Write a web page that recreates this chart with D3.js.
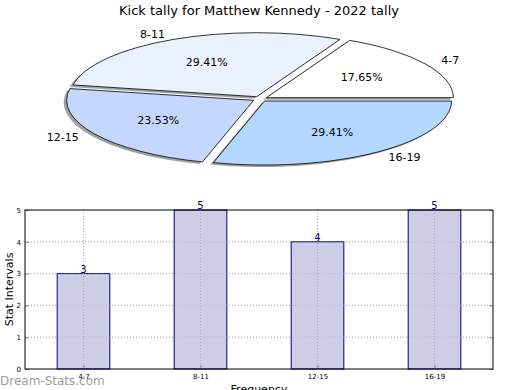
<!DOCTYPE html>
<html>
<head>
<meta charset="utf-8">
<script src="https://cdn.jsdelivr.net/npm/d3@7"></script>
<style>
  body { margin: 0; background: #fff; }
  svg { font-family: "DejaVu Sans", sans-serif; }
</style>
</head>
<body>
<div id="chart"></div>
<script>
// chart data
const categories = ["4-7", "8-11", "12-15", "16-19"];
const counts = [3, 5, 4, 5];
const sliceColors = ["#ffffff", "#eaf1ff", "#c4d8ff", "#b3d7ff"];
const yTicks = [0, 1, 2, 3, 4, 5];

const W = 520, H = 390;
const svg = d3.select("#chart").append("svg")
  .attr("width", W)
  .attr("height", H);

svg.append("text")
  .attr("x", 259).attr("y", 15)
  .attr("text-anchor", "middle")
  .attr("font-size", 13)
  .text("Kick tally for Matthew Kennedy - 2022 tally");

// ---- pie (matplotlib style, squashed into an ellipse) ----
const cx = 260, cy = 99, rx = 187, ry = 64, explode = 0.04;
const total = d3.sum(counts);
const pie = d3.pie().sort(null)(counts);
const arc = d3.arc().innerRadius(0).outerRadius(rx);

// d3 angles run clockwise from 12 o'clock; the reference runs counterclockwise from 3 o'clock
const slices = pie.map((p, i) => {
  const t1 = p.startAngle, t2 = p.endAngle, mid = (t1 + t2) / 2;
  return {
    i, value: p.data,
    start: Math.PI / 2 - t2, end: Math.PI / 2 - t1,
    dx: explode * rx * Math.cos(mid), dy: -explode * ry * Math.sin(mid), mid
  };
});

const pieG = svg.append("g");
// shadow
pieG.selectAll("path.shadow").data(slices).enter().append("path")
  .attr("class", "shadow")
  .attr("transform", d => `translate(${cx + d.dx - 3},${cy + d.dy + 2}) scale(1,${ry / rx})`)
  .attr("d", d => arc({startAngle: d.start, endAngle: d.end}))
  .attr("fill", "#555")
  .attr("opacity", 0.55);

pieG.selectAll("path.slice").data(slices).enter().append("path")
  .attr("class", "slice")
  .attr("transform", d => `translate(${cx + d.dx},${cy + d.dy}) scale(1,${ry / rx})`)
  .attr("d", d => arc({startAngle: d.start, endAngle: d.end}))
  .attr("fill", d => sliceColors[d.i])
  .attr("stroke", "#000")
  .attr("stroke-width", 0.8)
  .attr("vector-effect", "non-scaling-stroke");

// percent labels
pieG.selectAll("text.pct").data(slices).enter().append("text")
  .attr("x", d => cx + d.dx + 0.6 * rx * Math.cos(d.mid))
  .attr("y", d => cy + d.dy - 0.6 * ry * Math.sin(d.mid))
  .attr("dy", "0.35em")
  .attr("text-anchor", "middle")
  .attr("font-size", 11)
  .text(d => (d.value / total * 100).toFixed(2) + "%");

// category labels
pieG.selectAll("text.cat").data(slices).enter().append("text")
  .attr("x", d => cx + d.dx + 1.1 * rx * Math.cos(d.mid))
  .attr("y", d => cy + d.dy - 1.1 * ry * Math.sin(d.mid))
  .attr("dy", "0.35em")
  .attr("text-anchor", d => Math.cos(d.mid) >= 0 ? "start" : "end")
  .attr("font-size", 11)
  .text(d => categories[d.i]);

// ---- bar chart ----
const plotL = 25, plotR = 493, plotT = 210, plotB = 369;
const x = d3.scaleLinear().domain([-0.5, categories.length - 0.5]).range([plotL, plotR]);
const y = d3.scaleLinear().domain([0, 5]).range([plotB, plotT]);
const barW = 0.45;

const grid = svg.append("g")
  .attr("stroke", "#aaa")
  .attr("stroke-dasharray", "1,2");
grid.selectAll("line.h").data(yTicks.slice(1, -1)).enter().append("line")
  .attr("x1", plotL).attr("x2", plotR)
  .attr("y1", d => y(d)).attr("y2", d => y(d));

svg.selectAll("rect.bar").data(counts).enter().append("rect")
  .attr("x", (d, i) => x(i - barW / 2))
  .attr("y", d => y(d))
  .attr("width", x(barW) - x(0))
  .attr("height", d => plotB - y(d))
  .attr("fill", "#cdcde6")
  .attr("stroke", "#000080")
  .attr("stroke-width", 1);

// vertical grid sits over the bars, as in the reference
const vgrid = svg.append("g")
  .attr("stroke", "#aaa")
  .attr("stroke-dasharray", "1,2");
vgrid.selectAll("line").data(categories).enter().append("line")
  .attr("x1", (d, i) => x(i)).attr("x2", (d, i) => x(i))
  .attr("y1", plotT).attr("y2", plotB);
// horizontal grid shows faintly through the bars too
vgrid.selectAll("line.h").data(yTicks.slice(1, -1)).enter().append("line")
  .attr("x1", plotL).attr("x2", plotR)
  .attr("y1", d => y(d)).attr("y2", d => y(d))
  .attr("stroke-opacity", 0.5);

svg.selectAll("text.val").data(counts).enter().append("text")
  .attr("x", (d, i) => x(i))
  .attr("y", d => y(d) - 1)
  .attr("text-anchor", "middle")
  .attr("font-size", 10)
  .attr("fill", "#000080")
  .text(d => d);

// axes
const yAxis = svg.append("g")
  .attr("transform", `translate(${plotL},0)`)
  .call(d3.axisLeft(y).tickValues(yTicks).tickFormat(d3.format("d")).tickSize(-4).tickPadding(4));
const xAxis = svg.append("g")
  .attr("transform", `translate(0,${plotB})`)
  .call(d3.axisBottom(x).tickValues(d3.range(categories.length))
    .tickFormat(i => categories[i]).tickSize(-4).tickPadding(5));
svg.append("g")
  .attr("transform", `translate(${plotR},0)`)
  .call(d3.axisRight(y).tickValues(yTicks).tickSize(-4).tickFormat(""));
[yAxis, xAxis].forEach(a => {
  a.selectAll("text").attr("font-size", 7).attr("font-family", "DejaVu Sans");
});
svg.selectAll(".tick line").attr("stroke", "#888");
svg.selectAll(".domain").remove();

svg.append("rect")
  .attr("x", plotL).attr("y", plotT)
  .attr("width", plotR - plotL).attr("height", plotB - plotT)
  .attr("fill", "none")
  .attr("stroke", "#000")
  .attr("stroke-width", 1);

svg.append("text")
  .attr("transform", `translate(13,${(plotT + plotB) / 2}) rotate(-90)`)
  .attr("text-anchor", "middle")
  .attr("font-size", 11)
  .text("Stat Intervals");

svg.append("text")
  .attr("x", (plotL + plotR) / 2).attr("y", 393)
  .attr("text-anchor", "middle")
  .attr("font-size", 11)
  .text("Frequency");

// watermark
svg.append("text")
  .attr("x", 0).attr("y", 385)
  .attr("font-size", 12)
  .attr("fill", "#888")
  .attr("fill-opacity", 0.85)
  .text("Dream-Stats.com");
</script>
</body>
</html>
